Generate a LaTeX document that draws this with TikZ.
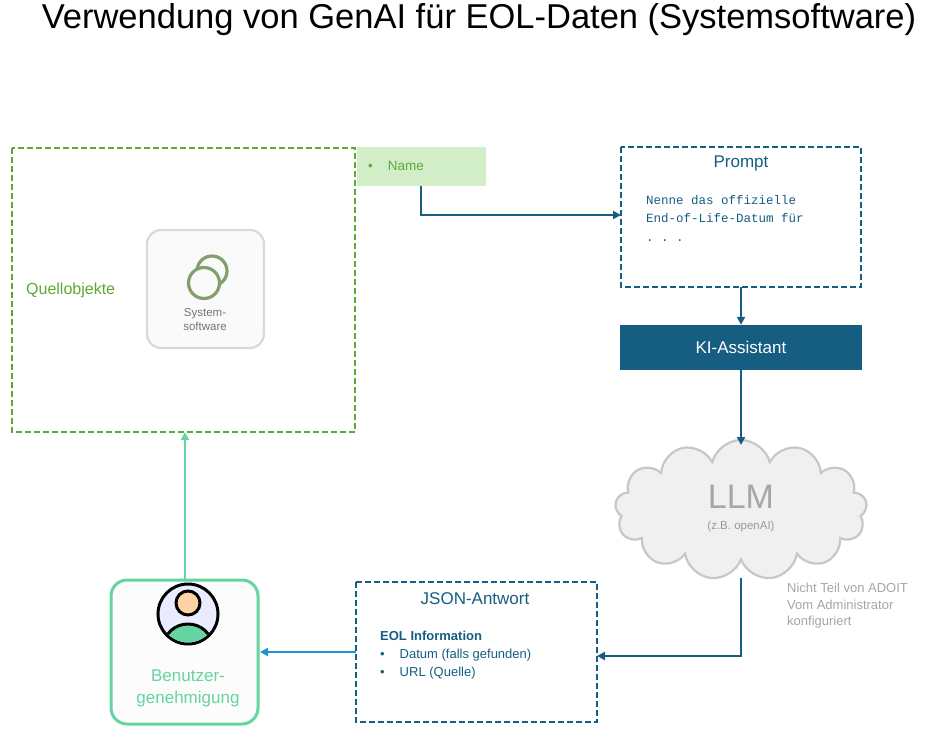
\documentclass[tikz,border=0pt]{standalone}
\usepackage{fontspec}
\setmainfont{Liberation Sans}
\setmonofont{Liberation Mono}
\usetikzlibrary{positioning,shapes.symbols,arrows.meta}
\definecolor{srcgreen}{RGB}{92,170,52}
\definecolor{namegreen}{RGB}{210,238,200}
\definecolor{darkblue}{RGB}{21,94,130}
\definecolor{mint}{RGB}{100,212,160}
\definecolor{lightblue}{RGB}{30,150,205}
\definecolor{softgray}{RGB}{165,165,165}
\definecolor{iconring}{RGB}{130,160,110}
\tikzset{
  dashbox/.style={draw=darkblue, line width=2.4pt, dash pattern=on 6pt off 3pt},
  flow/.style={-{Triangle[length=8pt,width=8pt]}, line width=2.2pt, draw=darkblue},
  lbl/.style={inner sep=0pt, font=\fontsize{16}{19}\selectfont}
}
\begin{document}
\begin{tikzpicture}[x=1pt,y=-1pt]
        \useasboundingbox (0,0) rectangle (935,734);
        \node (title) at (479,20) {\fontsize{34.5}{40}\selectfont Verwendung von GenAI für EOL-Daten (Systemsoftware)};

        % Quellobjekte
        \draw[draw=srcgreen, line width=2.4pt, dash pattern=on 6pt off 3pt] (12,148) rectangle (355,432);
        \coordinate (srcbot) at (185,432);
        \node[lbl, text=srcgreen, anchor=west] (src) at (26,290) {Quellobjekte};
        \draw[draw=black!15, fill=black!2, line width=2.2pt, rounded corners=14pt] (147,230) rectangle (264,348);
        \draw[draw=iconring, line width=3.2pt] (212,271) circle (15);
        \draw[draw=iconring, fill=black!2, line width=3.2pt] (204,283) circle (15.5);
        \node[align=center, text=black!55, font=\fontsize{11.5}{14}\selectfont] (sys) at (205,320) {System-\\software};

        % Name
        \fill[namegreen] (357,147) rectangle (486,186);
        \node[lbl, text=srcgreen, anchor=west, font=\fontsize{13.5}{16}\selectfont] (name) at (368,166) {•\hspace{15pt}Name};
        \coordinate (namebot) at (421,186);

        % Prompt
        \draw[dashbox] (621,147) rectangle (861,287);
        \node[lbl, text=darkblue, font=\fontsize{17}{20}\selectfont] (prompt) at (741,163) {Prompt};
        \node[anchor=north west, align=left, text=darkblue, inner sep=0pt,
              font=\ttfamily\fontsize{12.5}{18.5}\selectfont] (ptext) at (646,195)
              {Nenne das offizielle\\End-of-Life-Datum für\\. . .};
        \coordinate (pin) at (621,215);
        \coordinate (pbot) at (741,287);

        % KI-Assistant
        \node[fill=darkblue, minimum width=242pt, minimum height=45pt, text=white,
              font=\fontsize{17}{20}\selectfont] (ki) at (741,347.5) {KI-Assistant};

        % LLM
        \node[cloud, cloud puffs=13, aspect=1.8, draw=black!22, fill=black!6, line width=2.2pt,
              minimum width=252pt, minimum height=140pt] (llm) at (741,510) {};
        \node[text=black!35, font=\fontsize{34}{38}\selectfont] (llmt) at (741,497) {LLM};
        \node[text=black!40, font=\fontsize{11.5}{14}\selectfont] (llms) at (741,527) {(z.B. openAI)};
        \node[anchor=north west, align=left, text=softgray, inner sep=0pt,
              font=\fontsize{13}{16.5}\selectfont] (note) at (787,583)
              {Nicht Teil von ADOIT\\Vom Administrator\\konfiguriert};

        % JSON-Antwort
        \draw[dashbox] (356,582) rectangle (597,722);
        \node[lbl, text=darkblue, font=\fontsize{17}{20}\selectfont] (json) at (475,599) {JSON-Antwort};
        \node[anchor=north west, align=left, text=darkblue, inner sep=0pt,
              font=\fontsize{13}{18}\selectfont] (jtext) at (380,631)
              {\textbf{EOL Information}\\•\hspace{15pt}Datum (falls gefunden)\\•\hspace{15pt}URL (Quelle)};
        \coordinate (jin) at (597,656);
        \coordinate (jout) at (356,652);

        % Benutzergenehmigung
        \draw[draw=mint, fill=black!1, line width=3pt, rounded corners=16pt] (111,580) rectangle (258,724);
        \coordinate (uin) at (260,652);
        \coordinate (utop) at (185,580);
        \draw[line width=3pt, fill=blue!8] (188,614) circle (30);
        \begin{scope}
          \clip (188,614) circle (28.5);
          \draw[line width=3pt, fill=mint] (188,646) ellipse (24 and 22);
        \end{scope}
        \draw[line width=3pt, fill=orange!35] (188,603) circle (12);
        \node[align=center, text=mint, font=\fontsize{17}{22}\selectfont] (user) at (188,688) {Benutzer-\\genehmigung};

        % Verbindungen
        \draw[flow] (namebot) |- (pin);
        \draw[flow] (pbot) -- (ki.north);
        \draw[flow] (ki.south) -- (741,445);
        \draw[flow] (741,578) |- (jin);
        \draw[flow, draw=lightblue] (jout) -- (uin);
        \draw[flow, draw=mint] (utop) -- (srcbot);
\end{tikzpicture}
\end{document}
